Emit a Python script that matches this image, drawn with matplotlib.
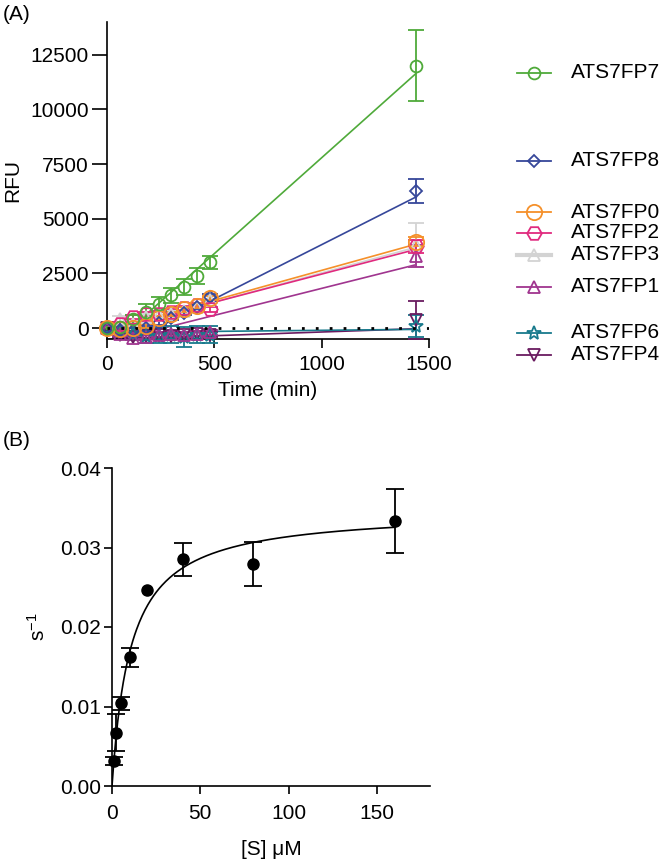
import numpy as np
import matplotlib
matplotlib.use("Agg")
import matplotlib.pyplot as plt
from matplotlib.lines import Line2D

plt.rcParams["font.family"] = ["Liberation Sans", "DejaVu Sans"]
plt.rcParams["mathtext.default"] = "regular"

# ── Panel A data: RFU vs time ────────────────────────────────
time_min = [0, 60, 120, 180, 240, 300, 360, 420, 480, 1440]

names = ["ATS7FP3", "ATS7FP4", "ATS7FP6", "ATS7FP1", "ATS7FP8", "ATS7FP2", "ATS7FP0", "ATS7FP7"]

rfu = {
    "ATS7FP7": [0, 50, 400, 750, 1100, 1500, 1880, 2380, 3000, 12000],
    "ATS7FP8": [0, -100, -150, 0, 250, 450, 700, 950, 1400, 6250],
    "ATS7FP0": [0, -60, 0, 100, 450, 650, 850, 1030, 1370, 3950],
    "ATS7FP2": [0, 200, 500, 650, 650, 750, 900, 1050, 850, 3750],
    "ATS7FP3": [0, 400, 200, 500, 600, 650, 800, 950, 1300, 3800],
    "ATS7FP1": [0, -250, -450, -400, -300, -250, -300, -250, -200, 3300],
    "ATS7FP6": [0, -150, -250, -350, -350, -300, -400, -300, -300, 80],
    "ATS7FP4": [0, -300, -400, -350, -300, -350, -300, -250, -300, 350],
}
rfu_err = {
    "ATS7FP7": [50, 100, 200, 350, 300, 350, 350, 350, 300, 1620],
    "ATS7FP8": [50, 100, 100, 100, 100, 100, 100, 100, 150, 550],
    "ATS7FP0": [50, 100, 100, 100, 100, 100, 100, 100, 100, 200],
    "ATS7FP2": [50, 100, 100, 100, 100, 100, 100, 100, 100, 300],
    "ATS7FP3": [50, 150, 150, 150, 150, 150, 150, 150, 150, 1000],
    "ATS7FP1": [50, 100, 100, 100, 100, 100, 100, 100, 100, 500],
    "ATS7FP6": [50, 200, 300, 350, 350, 400, 450, 400, 400, 500],
    "ATS7FP4": [50, 100, 100, 100, 100, 100, 100, 100, 100, 870],
}
# linear fit endpoints (value at t=0 and t=1440)
fit_ends = {
    "ATS7FP7": [-980, 11650],
    "ATS7FP8": [-1150, 6000],
    "ATS7FP0": [-90, 3840],
    "ATS7FP2": [-100, 3600],
    "ATS7FP3": [-150, 3700],
    "ATS7FP1": [-650, 2900],
    "ATS7FP6": [-200, -60],
    "ATS7FP4": [-520, -30],
}

styles = {
    "ATS7FP7": dict(color="#4FAA3A", marker="o", ms=8.5),
    "ATS7FP8": dict(color="#36479A", marker="D", ms=6.5),
    "ATS7FP0": dict(color="#F5902A", marker="o", ms=11),
    "ATS7FP2": dict(color="#E02A7E", marker="H", ms=10.5),
    "ATS7FP3": dict(color="#D3D3D3", marker="^", ms=8.5),
    "ATS7FP1": dict(color="#A0358F", marker="^", ms=8.5),
    "ATS7FP6": dict(color="#187A8C", marker="*", ms=10),
    "ATS7FP4": dict(color="#6A1B60", marker="v", ms=8.5),
}

legend_order = ["ATS7FP7", "ATS7FP8", "ATS7FP0", "ATS7FP2", "ATS7FP3", "ATS7FP1", "ATS7FP6", "ATS7FP4"]
legend_y_px = [73, 161, 212, 233, 255, 287, 333, 355]

# ── Panel B data: rate vs substrate ──────────────────────────
conc_uM = [1.25, 2.5, 5, 10, 20, 40, 80, 160]
rate = [0.0031, 0.0067, 0.0104, 0.0162, 0.0246, 0.0285, 0.0279, 0.0333]
rate_err = [0.0005, 0.0023, 0.0008, 0.0012, 0.0, 0.0021, 0.0028, 0.0040]
vmax, km = 0.0347, 10.6

W, H = 670, 865
fig = plt.figure(figsize=(W / 100, H / 100), dpi=100)
fs = 15

# ── Panel A ──────────────────────────────────────────────────
ax = fig.add_axes([107 / W, 1 - 339 / H, 322 / W, 317 / H])
for n in names:
    st = styles[n]
    ax.plot([0, 1440], fit_ends[n], color=st["color"], lw=1.2, zorder=2)
    ax.errorbar(time_min, rfu[n], yerr=rfu_err[n], fmt=st["marker"], ms=st["ms"],
                color=st["color"], mfc="none", mec=st["color"], mew=1.3,
                elinewidth=1.3, capsize=5.5, capthick=1.3, clip_on=False, zorder=3)
ax.plot([0, 1500], [0, 0], color="black", ls=(0, (1, 4)), lw=2, zorder=4)
ax.set_xlim(0, 1500)
ax.set_ylim(-500, 14000)
ax.set_xticks([0, 500, 1000, 1500])
ax.set_yticks([0, 2500, 5000, 7500, 10000, 12500])
ax.spines["top"].set_visible(False)
ax.spines["right"].set_visible(False)
for s in ["left", "bottom"]:
    ax.spines[s].set_linewidth(1.2)
ax.tick_params(axis="y", length=11, width=1.2, pad=2, labelsize=fs)
ax.tick_params(axis="x", length=6.5, width=1.2, pad=5, labelsize=fs)
ax.set_xlabel("Time (min)", fontsize=fs, labelpad=5)
ax.set_ylabel("RFU", fontsize=fs, labelpad=6)

# manual legend with grouped spacing
for n, ypx in zip(legend_order, legend_y_px):
    st = styles[n]
    yf = 1 - ypx / H
    lw = 3 if n == "ATS7FP3" else 1.3
    fig.add_artist(Line2D([517 / W, 551 / W], [yf, yf], color=st["color"], lw=lw))
    fig.add_artist(Line2D([534 / W], [yf], color=st["color"], marker=st["marker"],
                          ms=st["ms"], mfc="none", mec=st["color"], mew=1.3, ls="none"))
    fig.text(571 / W, yf, n, fontsize=fs, va="center", ha="left")

fig.text(3 / W, 1 - 14 / H, "(A)", fontsize=15, va="center", ha="left")

# ── Panel B ──────────────────────────────────────────────────
bx = fig.add_axes([112 / W, 1 - 786 / H, 318 / W, 318 / H])
s_fit = np.linspace(0, 160, 300)
bx.plot(s_fit, vmax * s_fit / (km + s_fit), color="black", lw=1.2, zorder=2)
# only draw bars where an error was visible
has_err = [i for i, e in enumerate(rate_err) if e > 0]
bx.errorbar([conc_uM[i] for i in has_err], [rate[i] for i in has_err],
            yerr=[rate_err[i] for i in has_err], fmt="none", ecolor="black",
            elinewidth=1.3, capsize=6.5, capthick=1.3, clip_on=False, zorder=3)
bx.plot(conc_uM, rate, "o", ms=8, color="black", clip_on=False, zorder=4)
bx.set_xlim(0, 180)
bx.set_ylim(0, 0.04)
bx.set_xticks([0, 50, 100, 150])
bx.set_yticks([0, 0.01, 0.02, 0.03, 0.04])
bx.set_yticklabels(["0.00", "0.01", "0.02", "0.03", "0.04"])
bx.spines["top"].set_visible(False)
bx.spines["right"].set_visible(False)
for s in ["left", "bottom"]:
    bx.spines[s].set_linewidth(1.2)
bx.tick_params(length=6, width=1.2, labelsize=fs)
bx.tick_params(axis="y", pad=2)
bx.tick_params(axis="x", pad=7)
bx.set_xlabel("[S] \u03bcM", fontsize=fs, labelpad=12)
bx.set_ylabel("s$^{-1}$", fontsize=fs, labelpad=8)

fig.text(3 / W, 1 - 440 / H, "(B)", fontsize=15, va="center", ha="left")

plt.savefig("out.png", dpi=100)
